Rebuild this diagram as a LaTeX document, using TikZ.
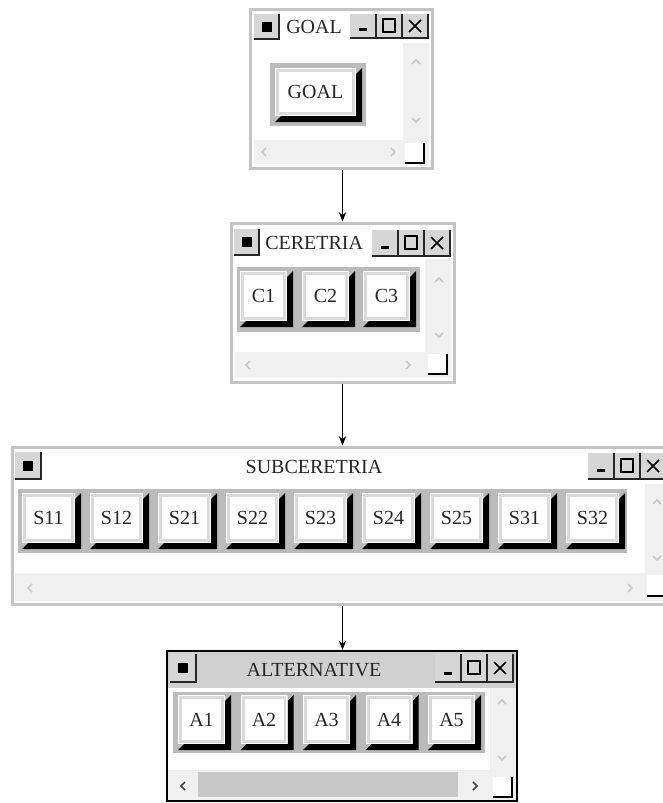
\documentclass[tikz,border=0pt]{standalone}
\usepackage{fontspec}
\setmainfont{Liberation Serif}
\usetikzlibrary{fit,arrows.meta}
\definecolor{bordergrey}{HTML}{C4C4C4}
\definecolor{sbgrey}{HTML}{F0F0F0}
\definecolor{stripgrey}{HTML}{BBBBBB}
\definecolor{btngrey}{HTML}{D6D6D6}
\definecolor{chevgrey}{HTML}{C8C8C8}
\definecolor{titlegrey}{HTML}{D0D0D0}
\definecolor{facegrey}{HTML}{DADADA}
\definecolor{thumbgrey}{HTML}{C8C8C8}
\tikzset{
  win/.style={draw=bordergrey, line width=2.25pt, fill=white, inner sep=0pt},
  activewin/.style={draw=black, line width=1.5pt, fill=white, inner sep=0pt},
  ttl/.style={font=\fontsize{15}{18}\selectfont, inner sep=0pt, text=black!85},
  lbl/.style={font=\fontsize{15}{18}\selectfont, inner sep=0pt, text=black!85},
  arr/.style={-{Stealth[length=7pt,width=5.5pt]}, line width=0.9pt},
  chev/.style={draw=chevgrey, line width=1.1pt},
  darkchev/.style={draw=black!75, line width=1.3pt},
}
% chevrons
\newcommand\rkUp[3][chev]{\draw[#1] (#2-4,#3+2) -- (#2,#3-2) -- (#2+4,#3+2);}
\newcommand\rkDown[3][chev]{\draw[#1] (#2-4,#3-2) -- (#2,#3+2) -- (#2+4,#3-2);}
\newcommand\rkLeft[3][chev]{\draw[#1] (#2+2,#3-4) -- (#2-2,#3) -- (#2+2,#3+4);}
\newcommand\rkRight[3][chev]{\draw[#1] (#2-2,#3-4) -- (#2+2,#3) -- (#2-2,#3+4);}
% system button
\newcommand\rkSys[4]{%
  \fill[btngrey] (#1,#2) rectangle (#3,#4);
  \draw[black!85, line width=1.1pt] (#1,#4) -- (#3,#4) -- (#3,#2);
  \fill[black] ({(#1+#3)/2-5},{(#2+#4)/2-5}) rectangle ({(#1+#3)/2+5},{(#2+#4)/2+5});
}
% min / max / close group: x0, y0, y1
\newcommand\rkCtl[3]{%
  \fill[btngrey] (#1,#2) rectangle (#1+78,#3);
  \draw[black!85, line width=1.1pt] (#1,#3) -- (#1+78,#3) -- (#1+78,#2);
  \draw[black!85, line width=1.1pt] (#1+26,#2) -- (#1+26,#3) (#1+52,#2) -- (#1+52,#3);
  \fill[black] (#1+9,#3-10) rectangle (#1+17,#3-7);
  \draw[black, line width=1pt] (#1+33,{(#2+#3)/2-7}) rectangle (#1+45,{(#2+#3)/2+6});
  \draw[black, line width=1.1pt] (#1+59,{(#2+#3)/2-6}) -- (#1+71,{(#2+#3)/2+6})
    (#1+59,{(#2+#3)/2+6}) -- (#1+71,{(#2+#3)/2-6});
}
% size grip: right x, bottom y
\newcommand\rkGrip[2]{%
  \fill[white] (#1-19,#2-20) rectangle (#1,#2);
  \draw[black, line width=1.3pt] (#1-19,#2) -- (#1,#2) -- (#1,#2-20);
}
% push button: x0 y0 x1 y1 label name
\newcommand\rkBtn[6]{%
  \fill[black] (#3,#2) -- (#3,#4) -- (#1,#4) -- (#1+6,#4-6) -- (#3-6,#4-6) -- (#3-6,#2+6) -- cycle;
  \fill[facegrey] (#1,#2) rectangle (#3-6,#4-6);
  \fill[white] (#1+4,#2+4) rectangle (#3-10,#4-10);
  \draw[white, line width=0.8pt] (#1+0.6,#2+0.6) rectangle (#3-6.6,#4-6.6);
  \node[lbl] (#6) at ({(#1+#3)/2-3},{(#2+#4)/2-3}) {#5};
}
\begin{document}
\begin{tikzpicture}[x=0.75pt,y=-0.75pt]
\useasboundingbox (0,0) rectangle (663,803);
\clip (0,0) rectangle (663,803);
\fill[white] (0,0) rectangle (663,803);

% ---------- Window 1: GOAL ----------
\node[win, fit={(250,9)(432,168)}] (w1) {};
\rkSys{254}{14}{279}{39}
\node[ttl, anchor=west] (t1) at (286,27) {GOAL};
\rkCtl{350}{14}{38}
\fill[sbgrey] (403,43) rectangle (429,140);
\rkUp{416}{62}
\rkDown{416}{120}
\fill[sbgrey] (254,140) rectangle (429,164);
\rkLeft{264}{152}
\rkRight{393}{152}
\rkGrip{424}{163}
\fill[stripgrey] (270,63) rectangle (366,126);
\rkBtn{275}{68}{362}{122}{GOAL}{goal}

% ---------- Window 2: CERETRIA ----------
\node[win, fit={(231,223)(454,382)}] (w2) {};
\rkSys{234}{229}{259}{255}
\node[ttl, anchor=west] (t2) at (265,243) {CERETRIA};
\rkCtl{372}{230}{256}
\fill[stripgrey] (237,267) rectangle (420,332);
\rkBtn{240}{271}{293}{327}{C1}{c1}
\rkBtn{302}{271}{355}{327}{C2}{c2}
\rkBtn{363}{271}{416}{327}{C3}{c3}
\fill[sbgrey] (425,259) rectangle (451,352);
\rkUp{439}{280}
\rkDown{439}{335}
\fill[sbgrey] (235,352) rectangle (451,378);
\rkLeft{248}{365}
\rkRight{408}{365}
\rkGrip{447}{374}

% ---------- Window 3: SUBCERETRIA ----------
\node[win, fit={(12,447)(672,604)}] (w3) {};
\rkSys{15}{452}{41}{479}
\node[ttl] (t3) at (314,467) {SUBCERETRIA};
\rkCtl{588}{453}{479}
\fill[stripgrey] (18,489) rectangle (627,553);
\foreach \lab [count=\i from 0] in {S11,S12,S21,S22,S23,S24,S25,S31,S32}{
  \rkBtn{22+68*\i}{493}{81+68*\i}{549}{\lab}{s\i}
}
\fill[sbgrey] (645,484) rectangle (672,573);
\rkUp{657}{502}
\rkDown{657}{558}
\fill[sbgrey] (15,573) rectangle (672,601);
\rkLeft{30}{588}
\rkRight{630}{588}
\fill[white] (647,575) rectangle (672,595);
\draw[black, line width=1.3pt] (647,596) -- (672,596);

% ---------- Window 4: ALTERNATIVE ----------
\node[activewin, fit={(167,651)(517,801)}] (w4) {};
\fill[titlegrey] (168,652) rectangle (516,688);
\rkSys{170}{654}{196}{682}
\node[ttl] (t4) at (314,670) {ALTERNATIVE};
\rkCtl{435}{654}{682}
\fill[stripgrey] (173,692) rectangle (485,753);
\foreach \lab [count=\i from 0] in {A1,A2,A3,A4,A5}{
  \rkBtn{178+62.5*\i}{695}{231+62.5*\i}{750}{\lab}{a\i}
}
\fill[sbgrey] (490,688) rectangle (516,770);
\rkUp{502}{702}
\rkDown{502}{758}
\fill[sbgrey] (168,770) rectangle (516,800);
\fill[thumbgrey] (198,772) rectangle (458,797);
\rkLeft[darkchev]{183}{786}
\rkRight[darkchev]{475}{786}
\rkGrip{512}{797}

% ---------- connectors ----------
\draw[arr] (w1.south -| w2.north) -- (w2.north);
\draw[arr] (w2.south) -- (w3.north -| w2.south);
\draw[arr] (w3.south -| w2.south) -- (w4.north -| w2.south);
\end{tikzpicture}
\end{document}
